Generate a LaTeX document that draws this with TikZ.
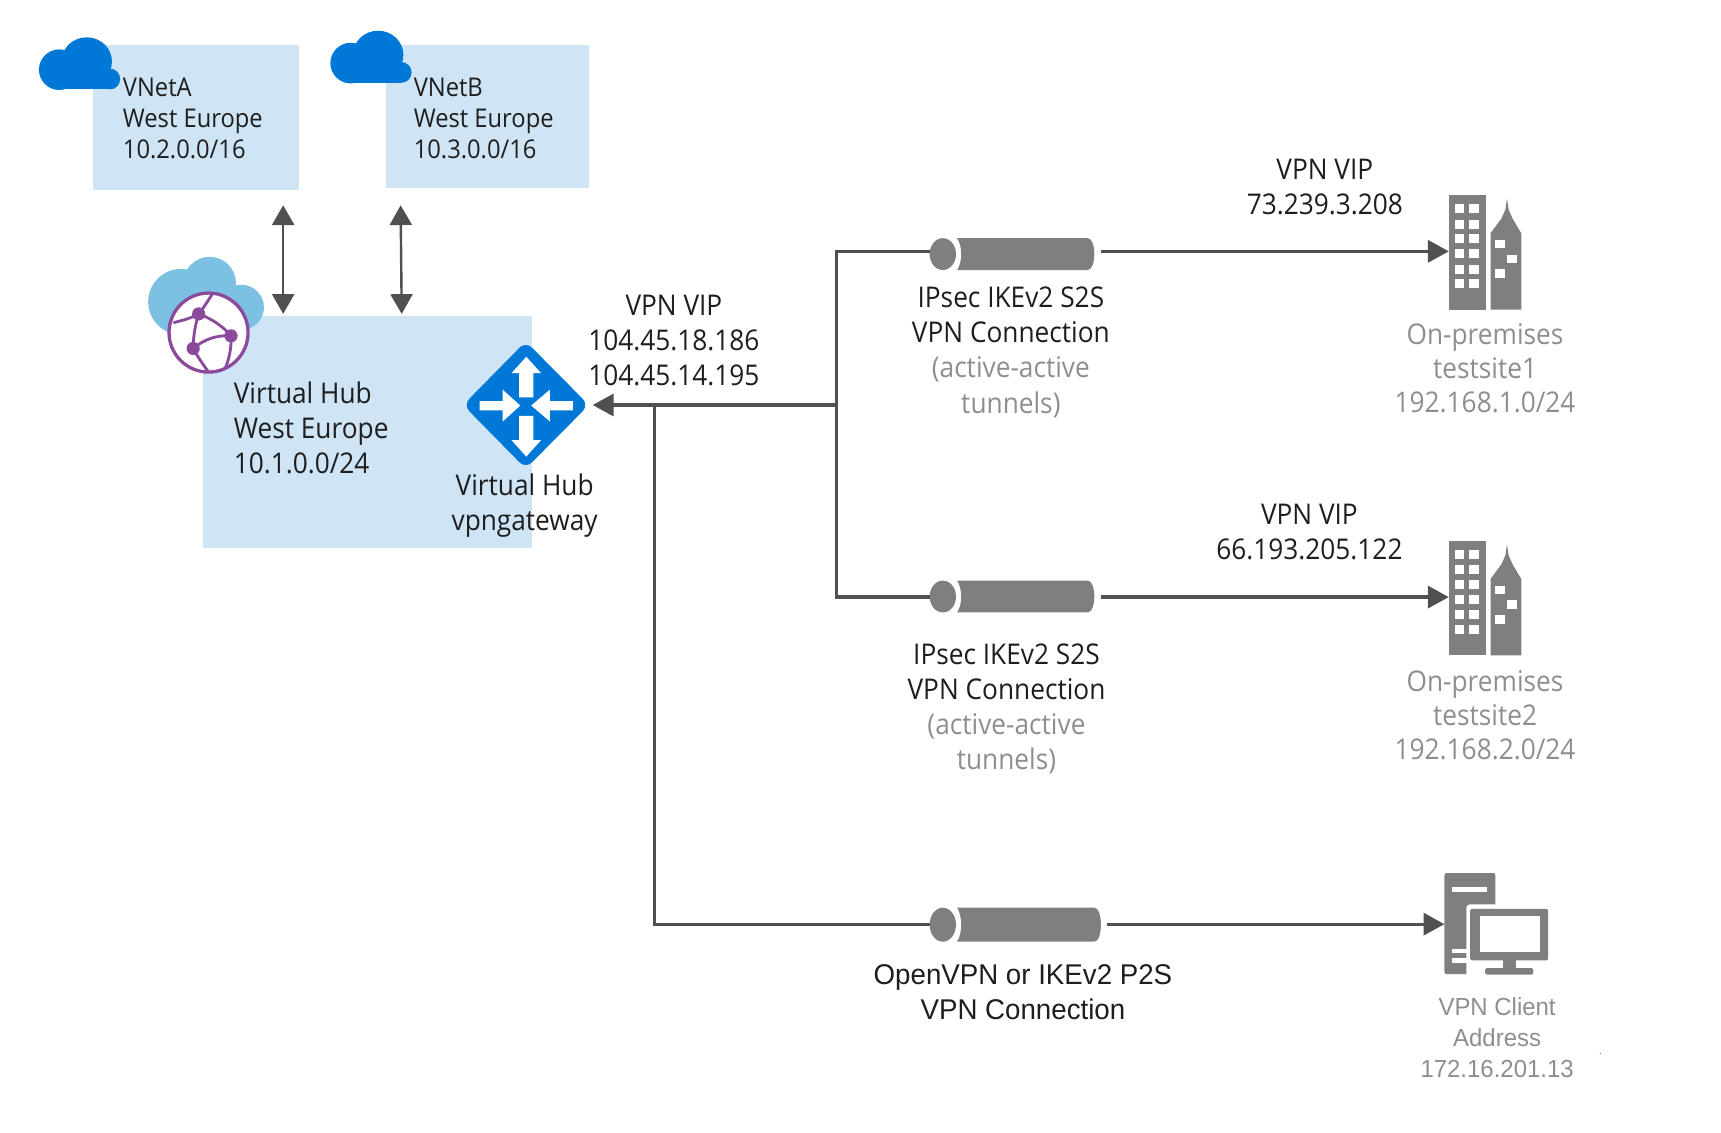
\documentclass[tikz,border=0pt]{standalone}
\usepackage{fontspec}
\setmainfont[FakeStretch=0.92]{Open Sans}
\newfontfamily\arialish[FakeStretch=0.97]{Liberation Sans}
\usetikzlibrary{arrows.meta}
\definecolor{boxblue}{HTML}{CFE5F5}
\definecolor{azure}{HTML}{0078D7}
\definecolor{lightcloud}{HTML}{7CC1E1}
\definecolor{globe}{HTML}{8C4A9C}
\definecolor{conn}{HTML}{505050}
\definecolor{tun}{HTML}{7F7F7F}
\definecolor{ink}{HTML}{1E1E1E}
\definecolor{soft}{HTML}{8E8E8E}
\newcommand{\szA}{\fontsize{26}{32}\selectfont}
\newcommand{\szB}{\fontsize{23.5}{28.5}\selectfont}
\newcommand{\szC}{\fontsize{26}{31.2}\selectfont}
\newcommand{\szD}{\arialish\fontsize{22.5}{28.5}\selectfont}
\newcommand{\szE}{\arialish\fontsize{26}{32}\selectfont}
\tikzset{
  x=1pt,y=-1pt,
  area/.style={fill=boxblue,draw=none,inner sep=0,outer sep=0,anchor=north west},
  holder/.style={draw=none,inner sep=0,outer sep=0,anchor=north west},
  lbl/.style={inner sep=0,outer sep=0,text=ink,align=center,font=\szA},
  lblleft/.style={lbl,align=left,anchor=west},
  wire/.style={draw=conn,line width=3pt},
  thinwire/.style={draw=conn,line width=2.2pt},
  head/.style={-{Triangle[length=19pt,width=20pt]}},
  twohead/.style={{Triangle[length=18pt,width=20pt]}-{Triangle[length=18pt,width=20pt]}},
  bldg/.pic={
    \fill[tun] (0,0) rectangle (34,104);
    \foreach \yy in {8,22,35.5,49,63,76}{
      \fill[white] (6,\yy) rectangle (14.2,\yy+8.2);
      \fill[white] (18.7,\yy) rectangle (27.7,\yy+8.2);
    }
    \fill[tun] (38,104) -- (38,34.5) -- (48,21) -- (51.5,13) -- (53,3) -- (54.5,13) -- (58,21) -- (66,34.5) -- (66,104) -- cycle;
    \fill[white] (42,40.5) rectangle (51.3,48);
    \fill[white] (52.7,54) rectangle (61.7,62);
    \fill[white] (42,67) rectangle (51.3,75.6);
  },
  tube/.pic={
    % #: width supplied by the caller through \tubeW, height through \tubeH
    \fill[tun] (0,0) ellipse [x radius=12,y radius=\tubeH/2];
    \fill[tun] (13,-\tubeH/2) .. controls (18,-\tubeH/4) and (18,\tubeH/4) .. (13,\tubeH/2)
       -- (\tubeW-10,\tubeH/2) .. controls (\tubeW-2,\tubeH/2) and (\tubeW-2,-\tubeH/2) .. (\tubeW-10,-\tubeH/2) -- cycle;
  },
  cloudblue/.pic={
    \fill[azure] (54,63.5) circle (18.5);
    \fill[azure] (79,56) ellipse [x radius=23,y radius=22];
    \fill[azure] (100,72) circle (9.5);
    \fill[azure] (54,62) rectangle (100,81.5);
  },
}
\begin{document}
\begin{tikzpicture}
\useasboundingbox (0,0) rectangle (1568,1032);
% areas
\node[area,minimum width=187pt,minimum height=132pt] (vneta) at (85,41) {};
\node[area,minimum width=185pt,minimum height=130pt] (vnetb) at (352,41) {};
\node[area,minimum width=300pt,minimum height=211pt] (hub) at (185,288) {};
% clouds
\pic at (0,0) {cloudblue};
\pic at (265.5,-6) {cloudblue};
\fill[lightcloud] (165,275) circle (30);
\fill[lightcloud] (191,258) circle (24);
\fill[lightcloud] (220,280) circle (20.5);
% globe
\node[draw=globe,line width=3pt,fill=white,circle,minimum size=72pt,inner sep=0] (globeicon) at (190,303) {};
\draw[globe,line width=2.6pt]
  (158,294) .. controls (166,292) and (174,290) .. (181,286)
  (181,286) .. controls (186,280) and (190,273) .. (194,267)
  (181,286) .. controls (192,290) and (203,297) .. (210.5,306)
  (176,317.5) .. controls (186,309) and (198,305) .. (210.5,306)
  (181,286) .. controls (178,296) and (176,306) .. (176,317.5)
  (176,317.5) .. controls (180,325) and (185,332) .. (190,339)
  (210.5,306) .. controls (211,316) and (209,327) .. (205,336);
\foreach \p in {(181,286),(210.5,306),(176,317.5)} \fill[globe] \p circle (6);
% gateway
\node[holder,anchor=center,minimum width=122pt,minimum height=114pt] (gw) at (479,369) {};
\fill[azure,rounded corners=8pt] (422,369) -- (479,311) -- (536.5,369) -- (479,427) -- cycle;
\fill[white] (479.5,325) -- (493,340) -- (486,340) -- (486,362) -- (473,362) -- (473,340) -- (466,340) -- cycle;
\fill[white] (479.5,416) -- (493,401) -- (486,401) -- (486,379) -- (473,379) -- (473,401) -- (466,401) -- cycle;
\fill[white] (474,369.5) -- (458,355) -- (458,365.5) -- (437,365.5) -- (437,374) -- (458,374) -- (458,384) -- cycle;
\fill[white] (484,369.5) -- (501,355) -- (501,365.5) -- (522,365.5) -- (522,374) -- (501,374) -- (501,384) -- cycle;
% tunnels
\def\tubeH{29}\def\tubeW{142}
\pic at (859,231.5) {tube};
\pic at (859,543.5) {tube};
\def\tubeH{31}\def\tubeW{148}
\pic at (859,842.5) {tube};
\node[holder,anchor=west,minimum width=154pt,minimum height=29pt] (tun1) at (847,229) {};
\node[holder,anchor=west,minimum width=154pt,minimum height=29pt] (tun2) at (847,544) {};
\node[holder,anchor=west,minimum width=160pt,minimum height=31pt] (tun3) at (847,842) {};
% sites
\pic at (1320,178) {bldg};
\pic at (1320,493) {bldg};
\node[holder,anchor=west,minimum width=66pt,minimum height=104pt] (site1) at (1320,229) {};
\node[holder,anchor=west,minimum width=66pt,minimum height=104pt] (site2) at (1320,544) {};
% client
\fill[tun,rounded corners=2pt] (1316,795.5) rectangle (1362.5,887.5);
\fill[white] (1323,808) rectangle (1355,813);
\fill[white] (1323,865) rectangle (1338,868);
\fill[white] (1323,873) rectangle (1338,877);
\fill[white,rounded corners=3pt] (1336,824) rectangle (1415,890);
\fill[tun,rounded corners=2pt] (1339.5,828) rectangle (1410.5,875);
\fill[white] (1348,835) rectangle (1403,867);
\fill[tun] (1369,875) rectangle (1381,882);
\fill[tun,rounded corners=2pt] (1353,882) rectangle (1397,888);
\node[holder,anchor=west,minimum width=95pt,minimum height=92pt] (client) at (1316,842) {};
\fill[black!70] (1458,960) circle (0.5);
% connectors
\coordinate (j1) at (762,369);
\coordinate (j2) at (596,369);
\coordinate (c1) at (762,229);
\coordinate (c2) at (762,544);
\coordinate (c3) at (596,842);
\coordinate (upa) at (258,187);
\coordinate (upb) at (365,187);
\coordinate (dna) at (258,286);
\coordinate (dnb) at (366,286);
\draw[thinwire,twohead] (upa) -- (dna);
\draw[thinwire,twohead] (upb) -- (dnb);
\draw[wire,head] (j1) -- (gw.east);
\draw[wire] (tun1.west) -- (c1) -- (c2) -- (tun2.west);
\draw[wire] (j2) -- (c3) -- (tun3.west);
\draw[wire,head,shorten <=2pt] (tun1.east) -- (site1.west);
\draw[wire,head,shorten <=2pt] (tun2.east) -- (site2.west);
\draw[wire,head,shorten <=2pt] (tun3.east) -- (client.west);
% labels
\node[lblleft,font=\szB] (ta) at (112,108) {VNetA\\West Europe\\10.2.0.0/16};
\node[lblleft,font=\szB] (tb) at (377,108) {VNetB\\West Europe\\10.3.0.0/16};
\node[lblleft] (thub) at (213,390) {Virtual Hub\\West Europe\\10.1.0.0/24};
\node[lbl] (tgw) at (478,461) {Virtual Hub\\vpngateway};
\node[lbl] (tvip) at (614,310) {VPN VIP\\104.45.18.186\\104.45.14.195};
\node[lbl] (tv1) at (1207,170) {VPN VIP\\73.239.3.208};
\node[lbl] (tv2) at (1193,485) {VPN VIP\\66.193.205.122};
\node[lbl] (tc1) at (921,321) {IPsec IKEv2 S2S\\VPN Connection\\\textcolor{soft}{(active-active}\\\textcolor{soft}{tunnels)}};
\node[lbl] (tc2) at (917,646) {IPsec IKEv2 S2S\\VPN Connection\\\textcolor{soft}{(active-active}\\\textcolor{soft}{tunnels)}};
\node[lbl,text=soft,font=\szC] (ts1) at (1353,335.5) {On-premises\\testsite1\\192.168.1.0/24};
\node[lbl,text=soft,font=\szC] (ts2) at (1353,651.5) {On-premises\\testsite2\\192.168.2.0/24};
\node[lbl,font=\szE] (tc3) at (932,904) {OpenVPN or IKEv2 P2S\\VPN Connection};
\node[lbl,text=soft,font=\szD] (tcl) at (1364,945.5) {VPN Client\\Address\\172.16.201.13};
\end{tikzpicture}
\end{document}
